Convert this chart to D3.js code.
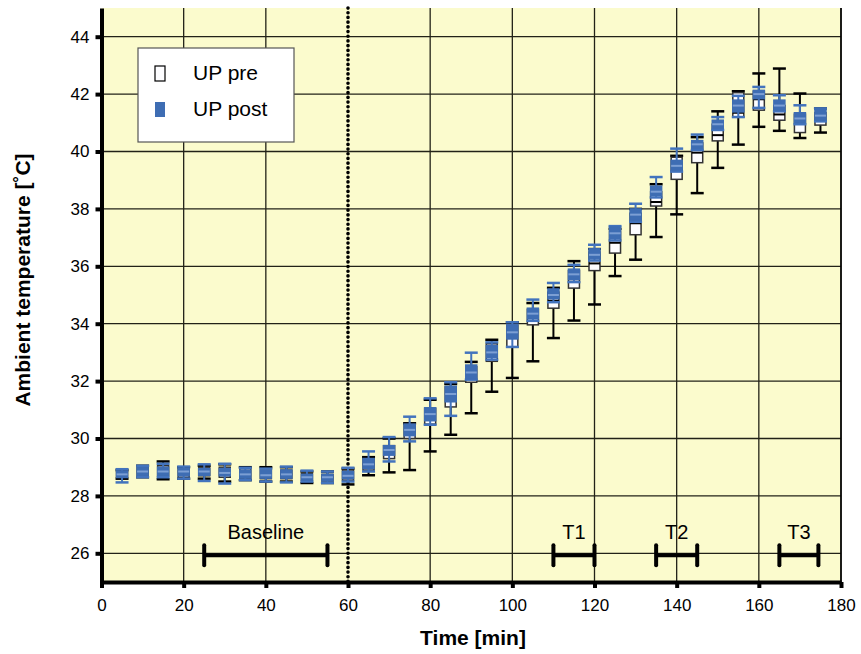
<!DOCTYPE html>
<html lang="en">
  <head>
    <meta charset="utf-8">
    <title>Ambient temperature</title>
    <style>
      body { margin: 0; background: #fff; }
      text { font-family: "Liberation Sans", Arial, sans-serif; }
    </style>
    <script src="https://d3js.org/d3.v7.min.js"></script>
  </head>
  <body>
    <script type="text/javascript">

      // time points [min]
      var times = [5, 10, 15, 20, 25, 30, 35, 40, 45, 50, 55, 60, 65, 70, 75, 80, 85, 90,
                   95, 100, 105, 110, 115, 120, 125, 130, 135, 140, 145, 150, 155, 160, 165, 170, 175];

      // UP pre: whisker low, q1, median, q3, whisker high
      var preLo  = [28.6, 28.65, 28.58, 28.6, 28.6, 28.5, 28.55, 28.5, 28.5, 28.45, 28.45, 28.4, 28.72, 28.82, 28.9, 29.55, 30.13, 30.88,
                    31.63, 32.11, 32.69, 33.5, 34.11, 34.67, 35.66, 36.23, 37.02, 37.81, 38.55, 39.43, 40.24, 40.86, 40.72, 40.47, 40.66];
      var preQ1  = [28.65, 28.7, 28.7, 28.65, 28.7, 28.65, 28.6, 28.6, 28.6, 28.55, 28.52, 28.55, 28.9, 29.3, 30.0, 30.5, 31.1, 31.96,
                    32.69, 33.18, 33.96, 34.54, 35.24, 35.85, 36.46, 37.1, 38.1, 39.03, 39.61, 40.37, 41.2, 41.44, 41.09, 40.66, 40.92];
      var preMed = [28.75, 28.85, 28.8, 28.8, 28.85, 28.8, 28.75, 28.75, 28.75, 28.65, 28.62, 28.7, 29.05, 29.55, 30.25, 30.8, 31.45, 32.1,
                    32.9, 33.5, 34.2, 34.8, 35.55, 36.1, 36.82, 37.5, 38.24, 39.35, 39.96, 40.57, 41.35, 41.82, 41.29, 41.03, 41.09];
      var preQ3  = [28.85, 29.0, 29.05, 28.95, 29.0, 29.0, 28.95, 28.9, 28.9, 28.78, 28.75, 28.9, 29.3, 29.75, 30.5, 31.05, 31.8, 32.5,
                    33.3, 33.95, 34.5, 35.1, 35.85, 36.5, 37.2, 37.85, 38.6, 39.8, 40.3, 40.95, 42.05, 42.1, 41.6, 41.3, 41.35];
      var preHi  = [28.9, 29.05, 29.2, 29.0, 29.05, 29.1, 29.0, 29.0, 29.0, 28.85, 28.85, 28.95, 29.35, 30.0, 30.53, 31.35, 31.9, 32.67,
                    33.44, 34.05, 34.72, 35.25, 36.18, 36.6, 37.3, 38.0, 38.86, 39.85, 40.5, 41.4, 42.1, 42.72, 42.89, 42.02, 41.5];

      // UP post
      var postLo  = [28.47, 28.65, 28.65, 28.6, 28.52, 28.43, 28.55, 28.5, 28.47, 28.5, 28.45, 28.5, 28.85, 29.2, 29.9, 30.48, 30.79, 32.05,
                     32.75, 33.19, 34.1, 34.75, 35.45, 36.2, 36.9, 37.55, 38.4, 39.3, 40.05, 40.75, 41.2, 41.52, 41.4, 40.95, 41.05];
      var postQ1  = [28.64, 28.72, 28.72, 28.7, 28.72, 28.7, 28.62, 28.62, 28.62, 28.55, 28.52, 28.6, 28.95, 29.42, 30.1, 30.62, 31.28, 32.07,
                     32.83, 33.47, 34.17, 34.87, 35.54, 36.26, 36.96, 37.6, 38.47, 39.34, 40.1, 40.8, 41.38, 41.84, 41.44, 41.0, 41.09];
      var postMed = [28.75, 28.85, 28.85, 28.85, 28.85, 28.8, 28.75, 28.72, 28.75, 28.65, 28.65, 28.7, 29.1, 29.6, 30.3, 30.85, 31.55, 32.3,
                     33.0, 33.7, 34.35, 35.0, 35.72, 36.4, 37.15, 37.8, 38.6, 39.5, 40.25, 40.95, 41.6, 42.0, 41.6, 41.15, 41.25];
      var postQ3  = [28.87, 28.98, 29.0, 28.95, 28.95, 28.95, 28.9, 28.88, 28.9, 28.75, 28.75, 28.85, 29.3, 29.75, 30.5, 31.07, 31.82, 32.56,
                     33.24, 33.96, 34.54, 35.21, 35.9, 36.61, 37.37, 38.0, 38.79, 39.69, 40.38, 41.09, 41.79, 42.13, 41.79, 41.35, 41.5];
      var postHi  = [28.93, 29.05, 29.12, 29.02, 29.1, 29.12, 28.98, 28.95, 29.02, 28.88, 28.85, 28.98, 29.55, 30.05, 30.76, 31.4, 31.96, 32.99,
                     33.35, 34.05, 34.84, 35.42, 36.05, 36.75, 37.4, 38.18, 39.11, 40.1, 40.59, 41.2, 41.94, 42.25, 41.96, 41.61, 41.5];

      // ticks
      var xTicks = [0, 20, 40, 60, 80, 100, 120, 140, 160, 180];
      var yTicks = [26, 28, 30, 32, 34, 36, 38, 40, 42, 44];

      // measurement periods
      var periods = [{name: "Baseline", from: 25, to: 55},
                     {name: "T1", from: 110, to: 120},
                     {name: "T2", from: 135, to: 145},
                     {name: "T3", from: 165, to: 174.5}];
      var periodLevel = 25.93;
      var splitTime = 60;

      var seriesNames = ["UP pre", "UP post"];

      //Width and height
      var w = 861;
      var h = 654;
      var margin = {top: 8, right: 20, bottom: 72, left: 101.5};
      var innerWidth = 841 - margin.left;
      var innerHeight = h - margin.top - margin.bottom;

      var blue = "#3e6db3";

      var svg = d3.select("body")
          .append("svg")
          .attr("width", w)
          .attr("height", h);

      var xScale = d3.scaleLinear().domain([0, 180]).range([0, innerWidth]);
      var yScale = d3.scaleLinear().domain([25, 45]).range([innerHeight, 0]);

      var g = svg.append("g")
          .attr("transform", `translate(${margin.left}, ${margin.top})`);

      g.append("rect")
          .attr("width", innerWidth)
          .attr("height", innerHeight)
          .attr("fill", "#fbfbcd");

// grid
      g.selectAll(".hgrid")
          .data(yTicks)
          .enter().append("line")
          .attr("x1", 0).attr("x2", innerWidth)
          .attr("y1", function(d) { return yScale(d) })
          .attr("y2", function(d) { return yScale(d) })
          .style("stroke", "#222218")
          .style("stroke-width", "1.3px");

      g.selectAll(".vgrid")
          .data(xTicks.filter(function(d) { return d > 0 && d != splitTime }))
          .enter().append("line")
          .attr("y1", 0).attr("y2", innerHeight)
          .attr("x1", function(d) { return xScale(d) })
          .attr("x2", function(d) { return xScale(d) })
          .style("stroke", "#222218")
          .style("stroke-width", "1.3px");

// dotted split line
      g.append("line")
          .attr("x1", xScale(splitTime)).attr("x2", xScale(splitTime))
          .attr("y1", 0).attr("y2", innerHeight)
          .style("stroke", "#000")
          .style("stroke-width", "3.6px")
          .style("stroke-linecap", "round")
          .style("stroke-dasharray", "0.1,4.6");

// period bars
      var per = g.selectAll(".period")
          .data(periods)
          .enter().append("g");

      per.append("line")
          .attr("x1", function(d) { return xScale(d.from) })
          .attr("x2", function(d) { return xScale(d.to) })
          .attr("y1", yScale(periodLevel)).attr("y2", yScale(periodLevel))
          .style("stroke", "#000").style("stroke-width", "4px");

      per.selectAll(".cap")
          .data(function(d) { return [d.from, d.to] })
          .enter().append("line")
          .attr("x1", function(d) { return xScale(d) })
          .attr("x2", function(d) { return xScale(d) })
          .attr("y1", yScale(periodLevel) - 10)
          .attr("y2", yScale(periodLevel) + 10)
          .style("stroke", "#000").style("stroke-width", "4px")
          .style("stroke-linecap", "round");

      per.append("text")
          .attr("x", function(d) { return xScale((d.from + d.to) / 2) })
          .attr("y", yScale(periodLevel) - 16)
          .attr("text-anchor", "middle")
          .style("font-size", "20px")
          .text(function(d) { return d.name });

// box plots
      var preData = times.map(function(t, i) {
        return {t: t, lo: preLo[i], q1: preQ1[i], med: preMed[i], q3: preQ3[i], hi: preHi[i]};
      });
      var postData = times.map(function(t, i) {
        return {t: t, lo: postLo[i], q1: postQ1[i], med: postMed[i], q3: postQ3[i], hi: postHi[i]};
      });

      var boxW = 11, capW = 13;

      function drawBoxes(data, opts) {
        var b = g.append("g").selectAll("g")
            .data(data)
            .enter().append("g")
            .attr("transform", function(d) { return `translate(${xScale(d.t)}, 0)` });

        b.append("line")
            .attr("y1", function(d) { return yScale(d.lo) })
            .attr("y2", function(d) { return yScale(d.hi) })
            .style("stroke", opts.whisker).style("stroke-width", "2px");

        b.selectAll(".cap")
            .data(function(d) { return [d.lo, d.hi] })
            .enter().append("line")
            .attr("x1", -capW / 2).attr("x2", capW / 2)
            .attr("y1", function(d) { return yScale(d) })
            .attr("y2", function(d) { return yScale(d) })
            .style("stroke", opts.whisker).style("stroke-width", "2.5px");

        b.append("rect")
            .attr("x", -boxW / 2)
            .attr("width", boxW)
            .attr("y", function(d) { return yScale(d.q3) })
            .attr("height", function(d) { return yScale(d.q1) - yScale(d.q3) })
            .attr("fill", opts.fill)
            .style("stroke", opts.stroke).style("stroke-width", "1.5px");

        b.append("line")
            .attr("x1", -boxW / 2).attr("x2", boxW / 2)
            .attr("y1", function(d) { return yScale(d.med) })
            .attr("y2", function(d) { return yScale(d.med) })
            .style("stroke", opts.median).style("stroke-width", "2px");
      }

      drawBoxes(preData, {fill: "#fdfdff", stroke: "#333", whisker: "#000", median: "#000"});
      drawBoxes(postData, {fill: blue, stroke: blue, whisker: "#4273bd", median: "#7c9fd4"});

// right border
      g.append("line")
          .attr("x1", innerWidth).attr("x2", innerWidth)
          .attr("y1", 0).attr("y2", innerHeight)
          .style("stroke", "#000").style("stroke-width", "1.5px");

// axes
      var xAxis = d3.axisBottom(xScale).tickValues(xTicks).tickSize(6).tickSizeOuter(0);
      var yAxis = d3.axisLeft(yScale).tickValues(yTicks).tickSize(6).tickSizeOuter(0);

      var gx = g.append("g")
          .attr("transform", `translate(0, ${innerHeight})`)
          .call(xAxis);
      var gy = g.append("g").call(yAxis);

      [gx, gy].forEach(function(a) {
        a.select(".domain").style("stroke", "#000").style("stroke-width", "4px");
        a.selectAll(".tick line").style("stroke", "#000").style("stroke-width", "4px");
        a.selectAll(".tick text")
          .style("font-size", "17px")
          .style("font-family", "'Liberation Sans', Arial, sans-serif")
          .attr("fill", "#000");
      });
      gx.selectAll(".tick text").attr("dy", "1.15em");
      gy.selectAll(".tick text").attr("x", -12);

      svg.append("text")
          .attr("x", 473)
          .attr("y", 645)
          .attr("text-anchor", "middle")
          .style("font-size", "21px")
          .style("font-weight", "bold")
          .text("Time [min]");

      svg.append("text")
          .attr("transform", "translate(30, 280) rotate(-90)")
          .attr("text-anchor", "middle")
          .style("font-size", "21px")
          .style("font-weight", "bold")
          .text("Ambient temperature [˚C]");

// legend
      var legend = svg.append("g").attr("transform", "translate(138, 48)");
      legend.append("rect")
          .attr("width", 156).attr("height", 94)
          .attr("fill", "#fff")
          .style("stroke", "#555").style("stroke-width", "1.2px");

      var items = legend.selectAll(".item")
          .data(seriesNames)
          .enter().append("g")
          .attr("transform", function(d, i) { return `translate(0, ${20 + i * 36})` });

      items.append("rect")
          .attr("x", 17).attr("y", -2)
          .attr("width", 10).attr("height", 15)
          .attr("fill", function(d, i) { return i == 0 ? "#fdfdff" : blue })
          .style("stroke", function(d, i) { return i == 0 ? "#000" : "none" })
          .style("stroke-width", "1.2px");

      items.append("text")
          .attr("x", 55).attr("y", 12)
          .style("font-size", "21px")
          .text(function(d) { return d });

    </script>
  </body>
</html>
